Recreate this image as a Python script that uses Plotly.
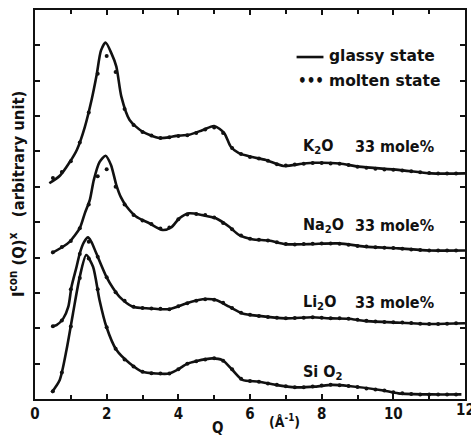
import plotly.graph_objects as go

# Q in inverse angstrom; intensities in arbitrary units (curves stacked vertically)

# ---- glassy state (solid curves) ----
k2o_q = [0.4, 0.7, 0.97, 1.17, 1.39, 1.58, 1.72, 1.84, 1.97, 2.13, 2.27, 2.41, 2.64, 3.0, 3.47,
         3.75, 3.94, 4.3, 4.67, 5.0, 5.28, 5.46, 5.69, 6.06, 6.44, 6.94, 7.45, 7.82, 8.5, 9.03,
         10.14, 11.06, 12.0]
k2o_i = [6.1, 6.32, 6.7, 7.05, 7.69, 8.46, 9.16, 9.85, 10.08, 9.78, 9.4, 8.55, 7.89, 7.56, 7.38,
         7.4, 7.44, 7.47, 7.6, 7.72, 7.52, 7.14, 6.95, 6.84, 6.76, 6.59, 6.65, 6.68, 6.66, 6.57,
         6.48, 6.38, 6.38]

na2o_q = [0.46, 0.8, 0.97, 1.25, 1.39, 1.53, 1.64, 1.8, 1.97, 2.12, 2.27, 2.4, 2.55, 2.82, 3.19,
          3.56, 3.8, 4.03, 4.3, 4.67, 5.05, 5.42, 5.69, 6.06, 6.53, 6.99, 7.64, 8.47, 9.2, 10.14,
          11.0, 12.0]
na2o_i = [4.12, 4.32, 4.45, 4.83, 5.25, 5.63, 6.19, 6.7, 6.88, 6.62, 6.05, 5.7, 5.45, 5.16, 4.97,
          4.78, 4.85, 5.11, 5.25, 5.2, 5.11, 4.87, 4.64, 4.52, 4.48, 4.38, 4.38, 4.4, 4.31, 4.26,
          4.2, 4.2]

li2o_q = [0.46, 0.6, 0.79, 0.93, 1.02, 1.16, 1.25, 1.36, 1.48, 1.57, 1.71, 1.99, 2.18, 2.36, 2.73,
          3.19, 3.75, 3.97, 4.21, 4.68, 5.05, 5.42, 5.79, 6.25, 6.99, 7.73, 8.28, 8.75, 9.2, 10.1,
          11.06, 12.0]
li2o_i = [2.05, 2.09, 2.28, 2.61, 3.18, 3.74, 4.12, 4.42, 4.57, 4.45, 4.12, 3.46, 3.13, 2.89, 2.61,
          2.56, 2.54, 2.61, 2.7, 2.82, 2.8, 2.61, 2.42, 2.35, 2.28, 2.31, 2.28, 2.27, 2.21, 2.16,
          2.12, 2.14]

sio2_q = [0.46, 0.69, 0.88, 1.06, 1.25, 1.43, 1.62, 1.8, 1.99, 2.27, 2.64, 3.0, 3.38, 3.75, 4.0,
          4.25, 4.49, 4.95, 5.23, 5.51, 5.79, 6.25, 6.71, 7.27, 7.82, 8.29, 8.75, 9.68, 10.14,
          11.06, 11.9]
sio2_i = [0.18, 0.54, 1.39, 2.42, 3.46, 4.07, 3.74, 2.8, 2.05, 1.39, 1.01, 0.77, 0.72, 0.72, 0.84,
          1.0, 1.07, 1.15, 1.1, 0.82, 0.54, 0.49, 0.4, 0.33, 0.35, 0.4, 0.37, 0.25, 0.16,
          0.13, 0.13]

# ---- molten state (dotted points) ----
molten_q = [0.5, 0.75, 1.0, 1.25, 1.5, 1.75, 2.0, 2.25, 2.5, 2.75, 3.0, 3.25, 3.5, 3.75, 4.0,
            4.25, 4.5, 4.75, 5.0, 5.25, 5.5, 5.75, 6.0, 6.25, 6.5, 6.75, 7.0, 7.25, 7.5, 7.75,
            8.0, 8.25, 8.5, 8.75, 9.0, 9.25, 9.5, 9.75, 10.0, 10.25, 10.5, 10.75, 11.0, 11.25,
            11.5, 11.75]
k2o_m = [6.25, 6.42, 6.72, 7.25, 8.1, 9.2, 9.7, 9.25, 8.2, 7.75, 7.55, 7.45, 7.38, 7.4, 7.44,
         7.46, 7.52, 7.62, 7.68, 7.52, 7.1, 6.93, 6.84, 6.8, 6.74, 6.64, 6.6, 6.63, 6.65, 6.67,
         6.67, 6.66, 6.65, 6.62, 6.57, 6.54, 6.51, 6.49, 6.48, 6.46, 6.44, 6.41, 6.39, 6.38,
         6.38, 6.38]
na2o_m = [4.15, 4.3, 4.47, 4.83, 5.5, 6.3, 6.5, 6.0, 5.5, 5.2, 5.05, 4.95, 4.82, 4.85, 5.08,
          5.22, 5.23, 5.2, 5.13, 4.98, 4.8, 4.62, 4.53, 4.5, 4.48, 4.43, 4.38, 4.37, 4.38, 4.39,
          4.4, 4.4, 4.39, 4.36, 4.33, 4.31, 4.29, 4.28, 4.27, 4.25, 4.23, 4.21, 4.2, 4.2,
          4.2, 4.2]
li2o_m = [2.06, 2.22, 3.1, 4.1, 4.45, 4.02, 3.44, 3.02, 2.78, 2.61, 2.57, 2.56, 2.55, 2.54, 2.62,
          2.71, 2.78, 2.82, 2.81, 2.72, 2.57, 2.44, 2.38, 2.35, 2.32, 2.3, 2.28, 2.29, 2.3, 2.31,
          2.3, 2.28, 2.28, 2.27, 2.24, 2.21, 2.19, 2.18, 2.17, 2.16, 2.15, 2.13, 2.12, 2.12,
          2.13, 2.14]
sio2_m = [0.22, 0.75, 2.05, 3.42, 3.97, 3.1, 2.03, 1.42, 1.12, 0.92, 0.77, 0.73, 0.72, 0.72, 0.84,
          1.0, 1.07, 1.12, 1.15, 1.08, 0.84, 0.57, 0.51, 0.49, 0.44, 0.4, 0.36, 0.33, 0.33, 0.35,
          0.38, 0.4, 0.39, 0.37, 0.34, 0.3, 0.27, 0.24, 0.19, 0.16, 0.14, 0.13, 0.13, 0.13,
          0.13, 0.13]

x_ticks = [0, 2, 4, 6, 8, 10]
x_last_tick = 12

compositions = ["K<sub>2</sub>O", "Na<sub>2</sub>O", "Li<sub>2</sub>O", "Si O<sub>2</sub>"]
glassy = [(k2o_q, k2o_i), (na2o_q, na2o_i), (li2o_q, li2o_i), (sio2_q, sio2_i)]
molten = [k2o_m, na2o_m, li2o_m, sio2_m]
label_y = [7.13, 4.92, 2.74, 0.74]
show_mole = [True, True, True, False]

FONT = "DejaVu Sans Condensed, DejaVu Sans, sans-serif"
WIDE = "DejaVu Sans, sans-serif"
INK = "#111111"

fig = go.Figure()
for (q, i), m in zip(glassy, molten):
    fig.add_trace(go.Scatter(x=q, y=i, mode="lines",
                             line=dict(color=INK, width=2.6, shape="spline", smoothing=0.7),
                             showlegend=False, hoverinfo="skip"))
    fig.add_trace(go.Scatter(x=molten_q, y=m, mode="markers",
                             marker=dict(color=INK, size=4, symbol="circle"),
                             showlegend=False, hoverinfo="skip"))

annotations = []
for name, ly, mole in zip(compositions, label_y, show_mole):
    annotations.append(dict(x=7.42, y=ly, xref="x", yref="y", text=name, showarrow=False,
                            xanchor="left", yanchor="middle",
                            font=dict(family=FONT, size=16, color=INK, weight="bold")))
    if mole:
        annotations.append(dict(x=11.19, y=ly, xref="x", yref="y", text="33 mole%",
                                showarrow=False, xanchor="right", yanchor="middle",
                                font=dict(family=FONT, size=16, color=INK, weight="bold")))

# key in the upper right
annotations += [
    dict(x=8.14, y=9.7, xref="x", yref="y", text="glassy state", showarrow=False,
         xanchor="left", yanchor="middle", font=dict(family=WIDE, size=15.5, color=INK, weight="bold")),
    dict(x=8.14, y=9.0, xref="x", yref="y", text="molten state", showarrow=False,
         xanchor="left", yanchor="middle", font=dict(family=WIDE, size=15.5, color=INK, weight="bold")),
    dict(x=7.28, y=8.98, xref="x", yref="y", text="\u2022\u2022\u2022", showarrow=False,
         xanchor="left", yanchor="middle", font=dict(family=FONT, size=15, color=INK, weight="bold")),
    # last tick label sits on the right edge of the page
    dict(x=x_last_tick, y=0, xref="x", yref="paper", yshift=-11, text=str(x_last_tick),
         showarrow=False, xanchor="center", yanchor="middle",
         font=dict(family=FONT, size=15, color=INK, weight="bold")),
    # axis titles
    dict(x=-0.042, y=0.527, xref="paper", yref="paper", textangle=-90,
         text="I<sup>con</sup> (Q)<sup>x</sup>   (arbitrary unit)", showarrow=False,
         xanchor="center", yanchor="middle",
         font=dict(family=FONT, size=16.5, color=INK, weight="bold")),
    dict(x=5.08, y=0, xref="x", yref="paper", yshift=-29, text="Q", showarrow=False,
         xanchor="center", yanchor="middle", font=dict(family=FONT, size=15, color=INK, weight="bold")),
    dict(x=6.95, y=0, xref="x", yref="paper", yshift=-22, text="(\u00c5<sup>-1</sup>)", showarrow=False,
         xanchor="center", yanchor="middle", font=dict(family=FONT, size=14, color=INK, weight="bold")),
]

fig.update_layout(
    width=471, height=439,
    margin=dict(l=35, r=4, t=10, b=40),
    paper_bgcolor="white", plot_bgcolor="white",
    annotations=annotations,
    shapes=[dict(type="line", xref="x", yref="y", x0=7.3, x1=8.05, y0=9.67, y1=9.67,
                 line=dict(color=INK, width=2.6))],
)
fig.update_xaxes(range=[0, 12], tickvals=x_ticks, ticks="inside", ticklen=5,
                 tickwidth=1.5, tickcolor=INK, showline=True, linewidth=2, linecolor=INK,
                 mirror="allticks", showgrid=False, zeroline=False,
                 minor=dict(dtick=1, ticks="inside", ticklen=4, tickwidth=1.5, tickcolor=INK),
                 tickfont=dict(family=FONT, size=15, color=INK, weight="bold"))
fig.update_yaxes(range=[0, 11], dtick=1, ticks="inside", ticklen=5, tickwidth=1.5, tickcolor=INK,
                 showticklabels=False, showline=True, linewidth=2, linecolor=INK,
                 mirror="allticks", showgrid=False, zeroline=False)

fig.write_html("out.html")
